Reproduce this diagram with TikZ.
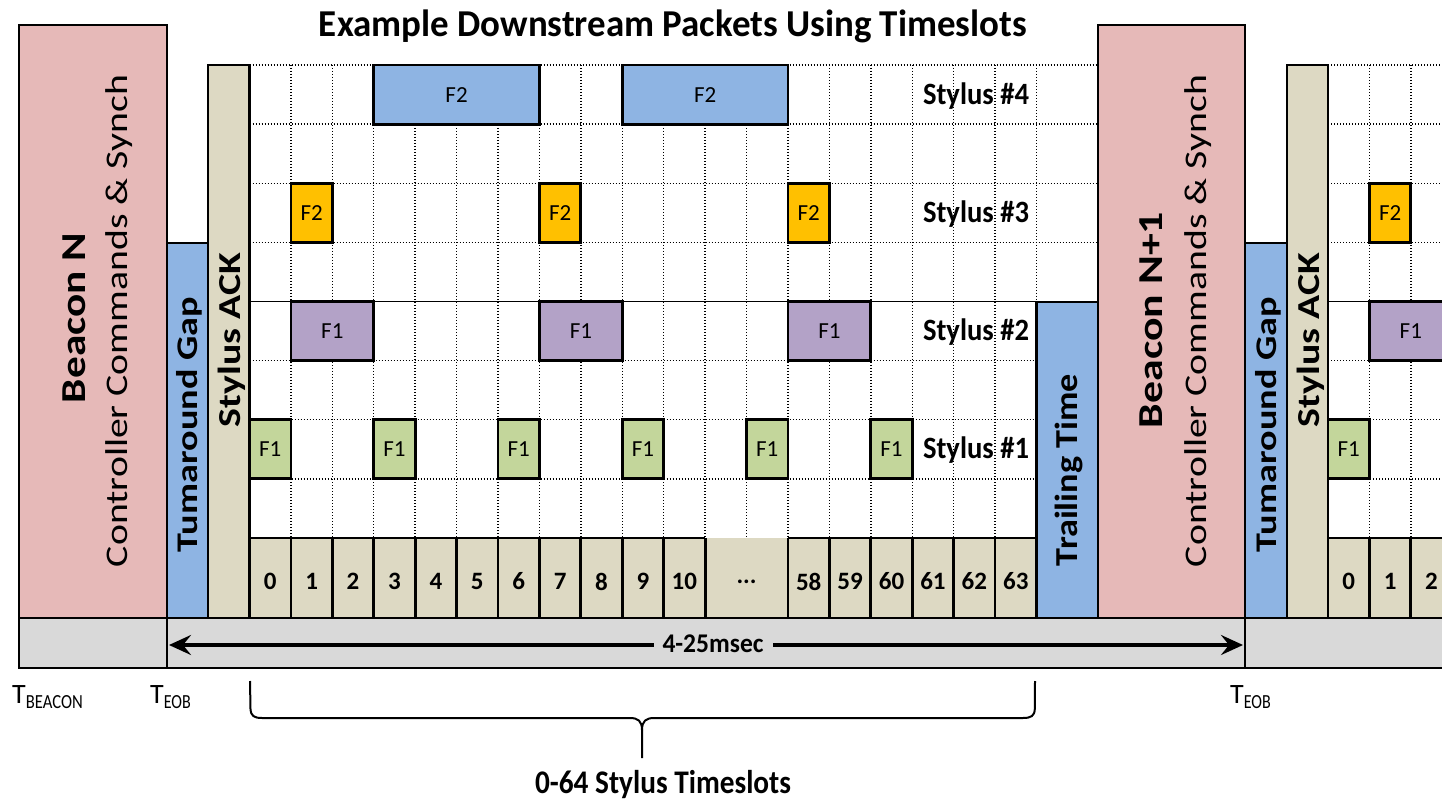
\documentclass[tikz,border=0pt]{standalone}
\usepackage{fontspec}
\setmainfont{Carlito}
\usepackage{graphicx}
\usetikzlibrary{arrows.meta}
\definecolor{beaconpink}{HTML}{E6B9B8}
\definecolor{slotblue}{HTML}{8EB4E3}
\definecolor{ackbeige}{HTML}{DDD9C3}
\definecolor{pktorange}{HTML}{FFC000}
\definecolor{pktpurple}{HTML}{B3A2C7}
\definecolor{pktgreen}{HTML}{C3D69B}
\definecolor{bargray}{HTML}{D9D9D9}
% text at font size #2, stretched or squeezed to the width #1
\newcommand{\fitw}[3]{\resizebox{#1}{\height}{\fontsize{#2}{#2}\selectfont #3}}
\newcommand{\fs}[1]{\fontsize{#1}{#1}\selectfont}

\begin{document}
\begin{tikzpicture}[x=1pt,y=-1pt,
  blk/.style={draw=black,line width=2.8pt},
  dotline/.style={draw=black,line width=1.4pt,dash pattern=on 1.4pt off 1.6pt},
  rowline/.style={draw=black,line width=1.3pt},
  pkt/.style={blk},
  ftext/.style={inner sep=0pt,font=\fs{23}},
  numtext/.style={inner sep=0pt,font=\fs{25}\bfseries},
  vtext/.style={inner sep=0pt,rotate=90,anchor=base},
  htext/.style={inner sep=0pt,anchor=base},
  tlabel/.style={inner sep=0pt,anchor=base west},
  spanarrow/.style={line width=4.5pt,{Stealth[length=22pt,width=20pt,inset=8pt]}-{Stealth[length=22pt,width=20pt,inset=8pt]}},
]
\fill[white] (0,0) rectangle (1442,799);
\clip (0,0) rectangle (1442,799);

% ---------- title ----------
\node[htext] (title) at (673,37) {\fitw{708pt}{38}{\bfseries Example Downstream Packets Using Timeslots}};

% ---------- first superframe: timeslot grid ----------
\begin{scope}[shift={(249.5,65)},x=41.42pt,y=-59.125pt]
  \foreach \r in {0,...,3} \draw[dotline] (0,\r) -- (20.5,\r);
  \foreach \r in {5,6,7} \draw[dotline] (0,\r) -- (19,\r);
  \draw[rowline] (0,4) -- (19,4);
  \foreach \c in {1,...,19} \draw[dotline] (\c,0) -- (\c,8);

  % stylus #4 packets
  \foreach \a/\b/\n in {3/7/a,9/13/b}
    \draw[pkt,fill=slotblue] (\a,0) rectangle (\b,1) node[midway,ftext] (sfour\n) {F2};
  % stylus #3 packets
  \foreach \a/\n in {1/a,7/b,13/c}
    \draw[pkt,fill=pktorange] (\a,2) rectangle (\a+1,3) node[midway,ftext] (sthree\n) {F2};
  % stylus #2 packets
  \foreach \a/\n in {1/a,7/b,13/c}
    \draw[pkt,fill=pktpurple] (\a,4) rectangle (\a+2,5) node[midway,ftext] (stwo\n) {F1};
  % stylus #1 packets
  \foreach \a/\n in {0/a,3/b,6/c,9/d,12/e,15/f}
    \draw[pkt,fill=pktgreen] (\a,6) rectangle (\a+1,7) node[midway,ftext] (sone\n) {F1};

  \foreach \r/\k in {0/4,2/3,4/2,6/1}
    \node[htext] (stylus\k) at (17.54,\r+0.66) {\fitw{106pt}{31}{\bfseries Stylus \#\k}};

  % timeslot numbers
  \fill[ackbeige] (0,8) rectangle (19,9.353);
  \draw[blk] (0,8) -- (11,8) (13,8) -- (19,8);
  \foreach \c in {1,2,3,4,5,6,7,8,9,10,11,13,14,15,16,17,18}
    \draw[blk] (\c,8) -- (\c,9.353);
  \foreach \c/\t in {0/0,1/1,2/2,3/3,4/4,5/5,6/6,7/7,8/8,9/9,10/10,13/58,14/59,15/60,16/61,17/62,18/63}
    \node[numtext] (slot\t) at (\c+0.5,8.736) {\t};
  \node[numtext] (slotdots) at (12,8.736) {...};
\end{scope}

% ---------- first superframe: blocks ----------
\draw[blk,fill=beaconpink] (19,25) rectangle (167,618);
\draw[blk,fill=slotblue] (167,243) rectangle (208,618);
\draw[blk,fill=ackbeige] (208,65) rectangle (249.5,618);
\draw[blk,fill=slotblue] (1036.5,302) rectangle (1098,618);

\node[vtext] (beaconN) at (85,318) {\fitw{170pt}{35}{\bfseries Beacon N}};
\node[vtext] (ctrlN) at (127,321) {\fitw{492pt}{31.5}{Controller Commands \& Synch}};
\node[vtext] (gapN) at (197,424.5) {\fitw{255pt}{30}{\bfseries Tumaround Gap}};
\node[vtext] (ackN) at (240,340) {\fitw{174pt}{32}{\bfseries Stylus ACK}};
\node[vtext] (trail) at (1077,470) {\fitw{192pt}{32}{\bfseries Trailing Time}};

% ---------- second superframe ----------
\begin{scope}[shift={(1328,65)},x=41.42pt,y=-59.125pt]
  \foreach \r in {0,1,2,3,5,6,7} \draw[dotline] (0,\r) -- (3,\r);
  \draw[rowline] (0,4) -- (3,4);
  \foreach \c in {1,2,3} \draw[dotline] (\c,0) -- (\c,8);
  \draw[pkt,fill=pktorange] (1,2) rectangle (2,3) node[midway,ftext] (nthree) {F2};
  \draw[pkt,fill=pktpurple] (1,4) rectangle (3,5) node[midway,ftext] (ntwo) {F1};
  \draw[pkt,fill=pktgreen] (0,6) rectangle (1,7) node[midway,ftext] (none) {F1};
  \fill[ackbeige] (0,8) rectangle (3,9.353);
  \draw[blk] (0,8) -- (3,8);
  \foreach \c in {1,2,3} \draw[blk] (\c,8) -- (\c,9.353);
  \foreach \t in {0,1,2}
    \node[numtext] (nslot\t) at (\t+0.5,8.736) {\t};
\end{scope}

\draw[blk,fill=beaconpink] (1098,25) rectangle (1245,618);
\draw[blk,fill=slotblue] (1245,243) rectangle (1287,618);
\draw[blk,fill=ackbeige] (1287,65) rectangle (1328,618);

\node[vtext] (beaconN1) at (1162,320) {\fitw{216pt}{35}{\bfseries Beacon N+1}};
\node[vtext] (ctrlN1) at (1206,321) {\fitw{492pt}{31.5}{Controller Commands \& Synch}};
\node[vtext] (gapN1) at (1276,424.5) {\fitw{255pt}{30}{\bfseries Tumaround Gap}};
\node[vtext] (ackN1) at (1319,340) {\fitw{174pt}{32}{\bfseries Stylus ACK}};

% ---------- time bar ----------
\draw[blk,fill=bargray] (19,618) rectangle (1460,668);
\draw[blk] (167,618) -- (167,668) (1245,618) -- (1245,668);
\coordinate (spanL) at (169,645);
\coordinate (spanR) at (1243,645);
\draw[spanarrow] (spanL) -- (spanR);
\node[fill=bargray,inner xsep=9pt,inner ysep=2pt] (period) at (713,644) {\fitw{101pt}{27}{\bfseries 4-25msec}};

% ---------- time marks ----------
\node[tlabel] (tbeacon) at (12,703) {\fs{28}T\raisebox{-5pt}{\fitw{57pt}{20}{BEACON}}};
\node[tlabel] (teob) at (150,703) {\fs{28}T\raisebox{-5pt}{\fitw{27pt}{20}{EOB}}};
\node[tlabel] (teobB) at (1230,703) {\fs{28}T\raisebox{-5pt}{\fitw{27pt}{20}{EOB}}};

% ---------- brace under the timeslots ----------
\coordinate (braceL) at (250,681);
\coordinate (braceR) at (1035,681);
\coordinate (braceTip) at (642,758);
\coordinate (braceMid) at (642,730);
\draw[line width=2pt] (braceL) -- (250.5,709) .. controls (251,716) and (254,718) .. (262,718)
  -- (630,718) .. controls (638,718) and (642,721) .. (braceMid) -- (braceTip);
\draw[line width=2pt] (braceMid) .. controls (642,721) and (646,718) .. (654,718)
  -- (1023,718) .. controls (1031,718) and (1034.5,716) .. (1034.8,709) -- (braceR);
\node[htext] (slots) at (663,793) {\fitw{256pt}{33}{\bfseries 0-64 Stylus Timeslots}};
\end{tikzpicture}
\end{document}
